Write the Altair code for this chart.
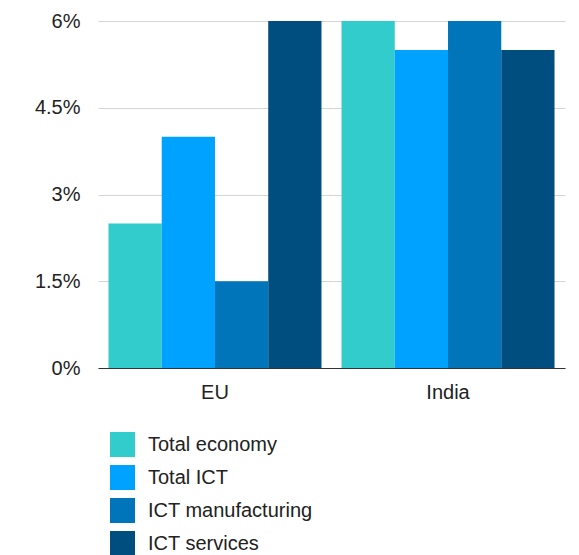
import altair as alt
import pandas as pd

regions = ["EU", "India"]
series = ["Total economy", "Total ICT", "ICT manufacturing", "ICT services"]
eu_values = [0.025, 0.04, 0.015, 0.06]
india_values = [0.06, 0.055, 0.06, 0.055]
colors = ["#33CCCC", "#00A2FF", "#0075BA", "#004E80"]
y_ticks = [0, 0.015, 0.03, 0.045, 0.06]

rows = []
for s, v in zip(series, eu_values):
    rows.append({"region": "EU", "series": s, "value": v})
for s, v in zip(series, india_values):
    rows.append({"region": "India", "series": s, "value": v})
df = pd.DataFrame(rows)

FONT = "Liberation Sans"
FS = 20

chart = alt.Chart(df).mark_bar().encode(
    x=alt.X("region:N", sort=regions, title=None,
            scale=alt.Scale(paddingInner=0.086, paddingOuter=0.045),
            axis=alt.Axis(labelAngle=0, ticks=False, domain=True, domainColor="#333333",
                          domainWidth=1, labelPadding=14, labelFontSize=FS,
                          labelColor="#222222", labelFont=FONT, grid=False)),
    xOffset=alt.XOffset("series:N", sort=series),
    y=alt.Y("value:Q", title=None,
            scale=alt.Scale(domain=[0, 0.06], nice=False),
            axis=alt.Axis(values=y_ticks, format=".1~%", ticks=False, domain=False,
                          grid=True, gridColor="#D5D5D5", gridWidth=1,
                          labelPadding=18, labelFontSize=FS, labelColor="#222222",
                          labelFont=FONT)),
    color=alt.Color("series:N", sort=series,
                    scale=alt.Scale(domain=series, range=colors),
                    legend=alt.Legend(title=None, orient="none", legendX=12, legendY=411,
                                      direction="vertical", symbolType="square",
                                      symbolSize=625, symbolStrokeWidth=0,
                                      rowPadding=8, labelOffset=13, labelLimit=400,
                                      labelFontSize=FS, labelColor="#222222",
                                      labelFont=FONT, symbolOpacity=1)),
).properties(
    width=467, height=347,
    autosize=alt.AutoSizeParams(type="none"),
    padding={"left": 90, "top": 13, "right": 6, "bottom": 187},
).configure_view(stroke=None)

chart.save("out.html", embed_options={"renderer": "svg", "actions": False})
